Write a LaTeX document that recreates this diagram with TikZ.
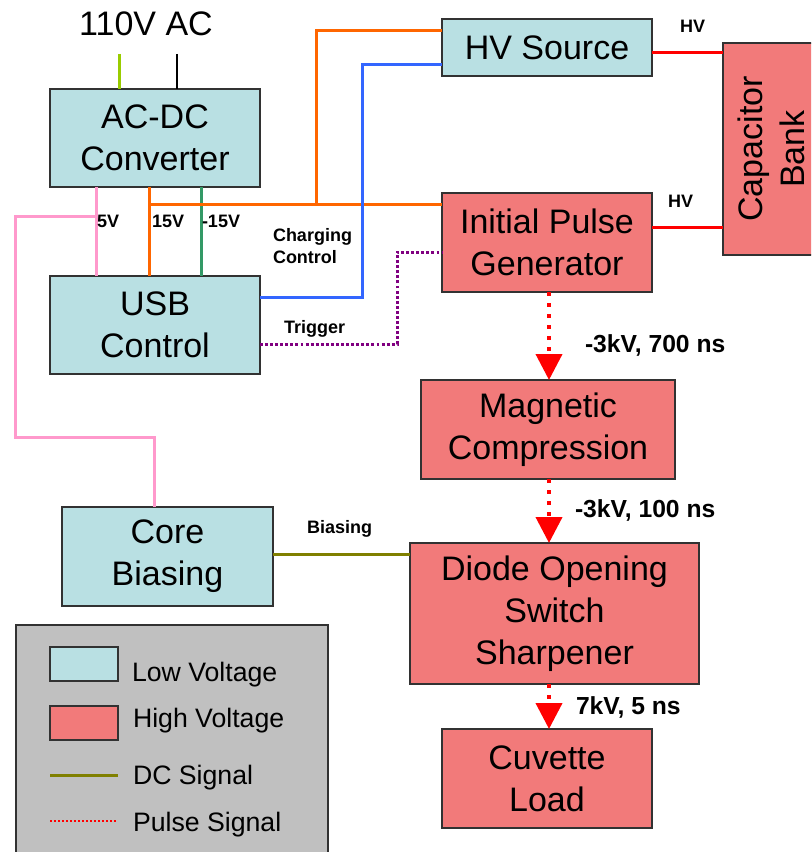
\documentclass[tikz,border=0pt]{standalone}
\usepackage{fontspec}
\setmainfont{Liberation Sans}
\usetikzlibrary{arrows.meta}
\definecolor{lvfill}{RGB}{185,224,227}
\definecolor{hvfill}{RGB}{242,122,122}
\definecolor{boxborder}{RGB}{50,50,50}
\definecolor{worange}{RGB}{255,102,0}
\definecolor{wblue}{RGB}{51,102,255}
\definecolor{wgreen}{RGB}{51,153,102}
\definecolor{wpink}{RGB}{255,153,204}
\definecolor{wyg}{RGB}{153,204,0}
\definecolor{wolive}{RGB}{128,128,0}
\definecolor{wpurple}{RGB}{128,0,128}
\definecolor{legendgray}{RGB}{192,192,192}
\newcommand\mainfs{\fontsize{25.5}{31.5}\selectfont}
\newcommand\labfs{\fontsize{13.5}{16.5}\selectfont}
\newcommand\pulsefs{\fontsize{18.5}{22}\selectfont}
\newcommand\legfs{\fontsize{20}{24}\selectfont}
\begin{document}
\begin{tikzpicture}[x=0.75pt,y=-0.75pt,
  box/.style={draw=boxborder, line width=1.2pt, inner sep=0pt, outer sep=0pt, align=center, font=\mainfs},
  lv/.style={box, fill=lvfill},
  hv/.style={box, fill=hvfill},
  sz/.style 2 args={minimum width=#1*0.75pt, minimum height=#2*0.75pt},
  wire/.style={line width=2.25pt},
  lab/.style={font=\labfs\bfseries, inner sep=0pt, outer sep=0pt},
  plab/.style={font=\pulsefs\bfseries, inner sep=0pt, outer sep=0pt},
  leg/.style={font=\legfs, inner sep=0pt, outer sep=0pt},
  pulse/.style={draw=red, line width=3pt, dash pattern=on 3pt off 5.25pt, -{Triangle[width=19.5pt,length=19.5pt]}}
]
\useasboundingbox (0,0) rectangle (811,852);
\clip (0,0) rectangle (811,852);

% boxes
\node[lv, sz={210}{98}] (acdc) at (155,138) {AC-DC\\Converter};
\node[lv, sz={210}{98}] (usb) at (155,325) {USB\\Control};
\node[lv, sz={210}{57}] (hvs) at (547,47.5) {HV Source};
\node[hv, sz={210}{99}] (ipg) at (547,242.5) {Initial Pulse\\Generator};
\node[hv, sz={96}{212}] (cap) at (771,149) {};
\node[font=\mainfs, align=center, rotate=90, inner sep=0pt] (captxt) at (cap.center) {Capacitor\\Bank};
\node[hv, sz={254}{99}] (mc) at (548,429.5) {Magnetic\\Compression};
\node[hv, sz={289}{141}] (dos) at (554.5,613.5) {Diode Opening\\Switch\\Sharpener};
\node[hv, sz={210}{99}] (cuv) at (547,778.5) {Cuvette\\Load};
\node[lv, sz={211}{99}] (core) at (167.5,556.5) {Core\\Biasing};

% input
\node[font=\mainfs, inner sep=0pt, anchor=base] (ac) at (146,36) {110V AC};
\coordinate (in1) at (119,54);
\coordinate (in2) at (177,54);
\draw[wire, draw=wyg] (in1) -- (in1 |- acdc.north);
\draw[wire, line width=1.2pt, draw=black] (in2) -- (in2 |- acdc.north);

% helper coordinates
\coordinate (p5) at (96,217);
\coordinate (pk1) at (15,437);
\coordinate (pk2) at (154,437);
\coordinate (o15) at (149,205);
\coordinate (ob) at (316,205);
\coordinate (o31) at (316,31);
\coordinate (g15) at (201,205);
\coordinate (bl) at (362,297);
\coordinate (bl2) at (362,65);
\coordinate (pu1) at (397,344);
\coordinate (pu2) at (397,252);
\coordinate (h1) at (652,53);
\coordinate (h2) at (652,228);
\coordinate (ol) at (300,554);
\coordinate (ax) at (549,300);

% power wires
\draw[wire, draw=wpink] (p5 |- acdc.south) -- (p5 |- usb.north);
\draw[wire, draw=wpink] (p5) -| (pk1) -- (pk2) -- (pk2 |- core.north);
\draw[wire, draw=worange] (o15 |- acdc.south) -- (o15 |- usb.north);
\draw[wire, draw=wgreen] (g15 |- acdc.south) -- (g15 |- usb.north);
\draw[wire, draw=worange] (o15) -- (o15 -| ipg.west);
\draw[wire, draw=worange] (ob) -- (o31) -- (o31 -| hvs.west);
\draw[wire, draw=wblue] (bl -| usb.east) -- (bl) -- (bl2) -- (bl2 -| hvs.west);
\draw[line width=2.25pt, draw=wpurple, dash pattern=on 2.2pt off 1.6pt] (pu1 -| usb.east) -- (pu1) -- (pu2) -- (pu2 -| ipg.west);
\draw[wire, draw=red] (h1 -| hvs.east) -- (h1 -| cap.west);
\draw[wire, draw=red] (h2 -| ipg.east) -- (h2 -| cap.west);
\draw[wire, draw=wolive] (ol -| core.east) -- (ol -| dos.west);

% pulse chain
\draw[pulse] (ax |- ipg.south) -- (ax |- mc.north);
\draw[pulse] (ax |- mc.south) -- (ax |- dos.north);
\draw[pulse] (ax |- dos.south) -- (ax |- cuv.north);

% labels
\node[lab, anchor=base west] (l5) at (97,228) {5V};
\node[lab, anchor=base west] (l15) at (152,228) {15V};
\node[lab, anchor=base west] (lm15) at (202,228) {-15V};
\node[lab, anchor=north west, align=left] (lcc) at (273,228) {Charging\\Control};
\node[lab, anchor=base west] (ltr) at (284,333) {Trigger};
\node[lab, anchor=base west] (lhv1) at (680,33) {HV};
\node[lab, anchor=base west] (lhv2) at (668,208) {HV};
\node[lab, anchor=base west] (lbi) at (307,533) {Biasing};
\node[plab, anchor=base west] (lp1) at (585,352) {-3kV, 700 ns};
\node[plab, anchor=base west] (lp2) at (575,517) {-3kV, 100 ns};
\node[plab, anchor=base west] (lp3) at (576,714) {7kV, 5 ns};

% legend
\node[draw=boxborder, line width=1.2pt, fill=legendgray, inner sep=0pt, sz={312}{250}, anchor=north west] (legend) at (15,624) {};
\node[lv, sz={68}{34}] (swl) at (84,664) {};
\node[hv, sz={68}{34}] (swh) at (84,723) {};
\coordinate (dcl) at (50,775);
\coordinate (dcr) at (118,775);
\draw[wire, draw=wolive] (dcl) -- (dcr);
\coordinate (psl) at (50,821);
\coordinate (psr) at (117,821);
\draw[draw=red, line width=1.8pt, dash pattern=on 1.5pt off 1.5pt] (psl) -- (psr);
\node[leg, anchor=base west] (tl) at (132,681) {Low Voltage};
\node[leg, anchor=base west] (th) at (133,727) {High Voltage};
\node[leg, anchor=base west] (td) at (133,784) {DC Signal};
\node[leg, anchor=base west] (tp) at (133,831) {Pulse Signal};
\end{tikzpicture}
\end{document}
